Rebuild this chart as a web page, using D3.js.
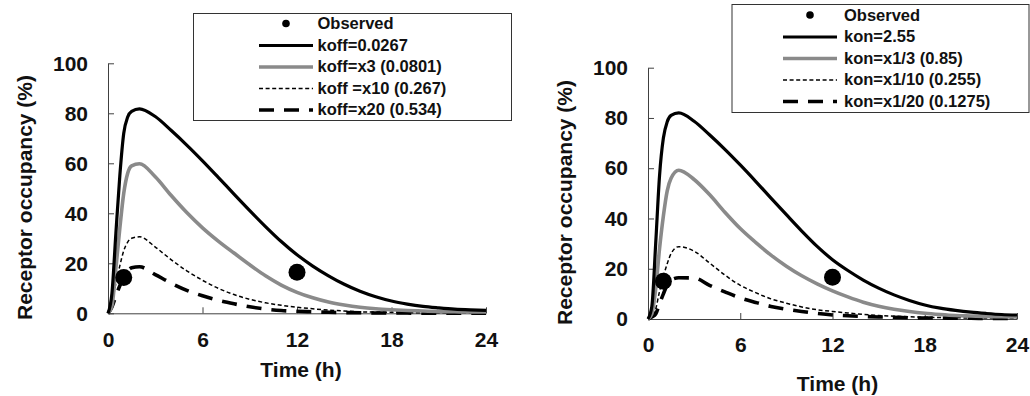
<!DOCTYPE html>
<html>
<head>
<meta charset="utf-8">
<script src="https://cdn.jsdelivr.net/npm/d3@7"></script>
<style>
  html, body { margin: 0; padding: 0; background: #fff; }
  svg { display: block; }
  text { font-family: "Liberation Sans", Arial, sans-serif; font-weight: bold; fill: #111; }
</style>
</head>
<body>
<svg id="chart" width="1030" height="396"></svg>
<script>
// ---------------- data ----------------
const timeH = [0, 0.25, 0.5, 0.75, 1, 1.25, 1.5, 2, 3, 4, 5, 6, 7, 8, 9, 10, 11, 12, 13, 14, 15, 16, 17, 18, 19, 20, 21, 22, 23, 24];

// left panel: koff variations
const koffBase = [0, 8, 32, 55, 72, 78.5, 80.8, 81.8, 78.7, 73.2, 67.3, 61, 54.4, 47.7, 41.1, 34.7, 28.7, 23.4, 18.9, 15, 11.6, 8.8, 6.6, 4.9, 3.7, 2.8, 2.2, 1.7, 1.4, 1.2];
const koffX3   = [0, 3, 18, 34, 48, 56, 59, 59.8, 54.6, 47.2, 40.3, 34.2, 28.9, 24.1, 19.4, 15, 11.3, 8.4, 6.2, 4.5, 3.3, 2.4, 1.8, 1.4, 1.1, 0.9, 0.7, 0.6, 0.5, 0.5];
const koffX10  = [0, 4, 12, 19, 25, 28.5, 30, 30.6, 26.5, 21.5, 17, 13.2, 10, 7.5, 5.6, 4.2, 3.2, 2.4, 1.8, 1.3, 0.9, 0.6, 0.5, 0.4, 0.3, 0.2, 0.2, 0.1, 0.1, 0.1];
const koffX20  = [0, 2.5, 7, 11, 14.5, 17, 18.2, 18.6, 15.5, 12.1, 9.2, 7, 5.2, 3.8, 2.6, 1.7, 1.1, 0.8, 0.6, 0.4, 0.3, 0.2, 0.1, 0.1, 0.1, 0, 0, 0, 0, 0];

// right panel: kon variations
const konBase  = [0, 5, 30, 57, 72, 78.5, 81, 82, 78.7, 73.3, 67.5, 61.3, 54.8, 48.1, 41.5, 35, 28.9, 23.6, 19.3, 15.5, 12.3, 9.6, 7.4, 5.6, 4.3, 3.4, 2.7, 2.2, 1.8, 1.6];
const konX3    = [0, 2, 12, 28, 41, 51, 56, 59.2, 55.5, 49.5, 42.5, 36, 30.5, 25.4, 21, 17.2, 14, 11.2, 8.8, 6.7, 5.1, 3.9, 3, 2.3, 1.8, 1.4, 1.2, 1, 0.9, 0.8];
const konX10   = [0, 1, 4, 11, 17, 22, 26, 28.8, 27, 22.3, 17.5, 13.4, 10.5, 8, 6.3, 4.8, 3.7, 3, 2.4, 1.8, 1.4, 1.1, 0.9, 0.7, 0.6, 0.5, 0.4, 0.4, 0.3, 0.3];
const konX20   = [0, 0.8, 2, 6, 10, 13.5, 15.5, 16.4, 16.3, 13.4, 10.8, 8.4, 6.6, 5, 3.9, 3, 2.2, 1.6, 1.3, 1, 0.8, 0.7, 0.5, 0.4, 0.4, 0.3, 0.3, 0.2, 0.2, 0.2];

const observedTime  = [1, 12];
const observedLeft  = [14.3, 16.4];
const observedRight = [15, 16.6];

const xTicks = [0, 6, 12, 18, 24];
const yTicks = [0, 20, 40, 60, 80, 100];

const legendLeft  = ["Observed", "koff=0.0267", "koff=x3 (0.0801)", "koff =x10 (0.267)", "koff=x20 (0.534)"];
const legendRight = ["Observed", "kon=2.55", "kon=x1/3 (0.85)", "kon=x1/10 (0.255)", "kon=x1/20 (0.1275)"];

const xTitle = "Time (h)";
const yTitle = "Receptor occupancy (%)";

// ---------------- styles ----------------
const seriesStyles = [
  { stroke: "#000000", width: 3.2, dash: null },
  { stroke: "#8a8a8a", width: 3.6, dash: null },
  { stroke: "#000000", width: 1.5, dash: "4,2.6" },
  { stroke: "#000000", width: 3.6, dash: "15,10" }
];

const svg = d3.select("#chart");

function drawPanel(cfg) {
  const x = d3.scaleLinear().domain([0, 24]).range([cfg.x0, cfg.x1]);
  const y = d3.scaleLinear().domain([0, 100]).range([cfg.yBot, cfg.yTop]);
  const g = svg.append("g");

  // axes
  const xAxis = d3.axisBottom(x).tickValues(xTicks).tickSize(-6).tickSizeOuter(0).tickPadding(cfg.xPad);
  const yAxis = d3.axisLeft(y).tickValues(yTicks).tickSize(-6).tickSizeOuter(0).tickPadding(20);

  const gx = g.append("g").attr("transform", `translate(0,${cfg.yBot})`).call(xAxis);
  const gy = g.append("g").attr("transform", `translate(${cfg.x0},0)`).call(yAxis);
  [gx, gy].forEach(a => {
    a.selectAll("path, line").attr("stroke", "#404040").attr("stroke-width", 1);
    a.selectAll("text").attr("font-size", 21).attr("font-family", "Liberation Sans, Arial, sans-serif")
      .attr("font-weight", "bold").attr("fill", "#111");
  });

  // axis titles
  g.append("text").attr("x", cfg.xTitleX).attr("y", cfg.xTitleY)
    .attr("text-anchor", "middle").attr("font-size", 21).text(xTitle);
  g.append("text")
    .attr("transform", `translate(${cfg.yTitleX},${cfg.yTitleY}) rotate(-90)`)
    .attr("text-anchor", "middle").attr("font-size", 21).text(yTitle);

  // series
  const line = d3.line().x((d, i) => x(timeH[i])).y(d => y(d)).curve(d3.curveMonotoneX);
  const order = [3, 2, 1, 0];
  order.forEach(k => {
    const s = seriesStyles[k];
    g.append("path").datum(cfg.series[k])
      .attr("d", line)
      .attr("fill", "none")
      .attr("stroke", s.stroke)
      .attr("stroke-width", s.width)
      .attr("stroke-dasharray", s.dash)
      .attr("stroke-linejoin", "round");
  });

  // observed points
  g.selectAll("circle.obs").data(cfg.observed).enter().append("circle")
    .attr("class", "obs")
    .attr("cx", (d, i) => x(observedTime[i]))
    .attr("cy", d => y(d))
    .attr("r", 8.5)
    .attr("fill", "#000");

  // legend
  const L = cfg.legend;
  g.append("rect").attr("x", L.x).attr("y", L.y).attr("width", L.w).attr("height", L.h)
    .attr("fill", "#fff").attr("stroke", "#333").attr("stroke-width", 1);
  cfg.labels.forEach((lab, i) => {
    const cy = L.row0 + i * L.rowH;
    if (i === 0) {
      g.append("circle").attr("cx", (L.lx0 + L.lx1) / 2).attr("cy", cy).attr("r", 3.8).attr("fill", "#000");
    } else {
      const s = seriesStyles[i - 1];
      g.append("line").attr("x1", L.lx0).attr("x2", L.lx1).attr("y1", cy + 0.5).attr("y2", cy + 0.5)
        .attr("stroke", s.stroke).attr("stroke-width", s.width).attr("stroke-dasharray", s.dash);
    }
    g.append("text").attr("x", L.tx).attr("y", cy).attr("dy", "0.36em")
      .attr("font-size", 16.5).text(lab);
  });
}

drawPanel({
  x0: 108, x1: 486, yTop: 63.3, yBot: 313.3, xPad: 19,
  xTitleX: 301, xTitleY: 377, yTitleX: 32, yTitleY: 197.5,
  series: [koffBase, koffX3, koffX10, koffX20],
  observed: observedLeft,
  labels: legendLeft,
  legend: { x: 193.5, y: 13.5, w: 318, h: 107, row0: 23.5, rowH: 21.5, lx0: 259, lx1: 313, tx: 317.5 }
});

drawPanel({
  x0: 648, x1: 1017, yTop: 67.7, yBot: 319, xPad: 18,
  xTitleX: 837.5, xTitleY: 391, yTitleX: 572, yTitleY: 202.5,
  series: [konBase, konX3, konX10, konX20],
  observed: observedRight,
  labels: legendRight,
  legend: { x: 732, y: 4.5, w: 297, h: 108, row0: 15, rowH: 21.5, lx0: 783, lx1: 837, tx: 844 }
});
</script>
</body>
</html>
